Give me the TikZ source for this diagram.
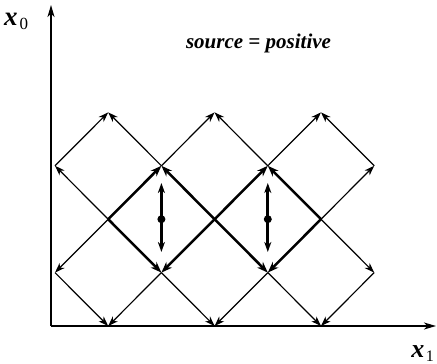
\documentclass[tikz,border=0pt]{standalone}
\usepackage{fontspec}
\setmainfont{Liberation Serif}
\usetikzlibrary{arrows.meta}
\begin{document}
\begin{tikzpicture}[x=1pt,y=-1pt,
  thinray/.style={line width=1.2pt,-{Stealth[length=10pt,width=7pt,inset=3pt]}},
  thickray/.style={line width=2.5pt,-{Stealth[length=11pt,width=8pt,inset=3.5pt]}},
  srcarrow/.style={line width=2.8pt,-{Stealth[length=10pt,width=7pt,inset=3pt]}},
  axis/.style={line width=1.5pt,-{Stealth[length=12pt,width=7pt,inset=3.5pt]}},
  lbl/.style={inner sep=0pt}]
\useasboundingbox (0,0) rectangle (437,364);
% lattice points
\coordinate (B1) at (108.2,326); \coordinate (B2) at (214.6,326); \coordinate (B3) at (321,326);
\coordinate (L1) at (55,272.6); \coordinate (M1) at (161.4,272.6); \coordinate (M2) at (267.8,272.6); \coordinate (R1) at (374.2,272.6);
\coordinate (C1) at (108.2,219.2); \coordinate (C2) at (214.6,219.2); \coordinate (C3) at (321,219.2);
\coordinate (L3) at (55,165.8); \coordinate (N1) at (161.4,165.8); \coordinate (N2) at (267.8,165.8); \coordinate (R3) at (374.2,165.8);
\coordinate (T1) at (108.2,112.4); \coordinate (T2) at (214.6,112.4); \coordinate (T3) at (321,112.4);
% axes
\coordinate (O) at (51,326);
\coordinate (Ytip) at (51,5);
\coordinate (Xtip) at (436,326);
\draw[axis] (O) -- (Ytip);
\draw[axis] (O) -- (Xtip);
% thin rays
\draw[thinray] (C1) -- (L3);
\draw[thinray] (C1) -- (L1);
\draw[thinray] (L3) -- (T1);
\draw[thinray] (L1) -- (B1);
\draw[thinray] (N1) -- (T1);
\draw[thinray] (N1) -- (T2);
\draw[thinray] (N2) -- (T2);
\draw[thinray] (N2) -- (T3);
\draw[thinray] (M1) -- (B1);
\draw[thinray] (M1) -- (B2);
\draw[thinray] (M2) -- (B2);
\draw[thinray] (M2) -- (B3);
\draw[thinray] (C3) -- (R3);
\draw[thinray] (C3) -- (R1);
\draw[thinray] (R3) -- (T3);
\draw[thinray] (R1) -- (B3);
% thick diamonds
\draw[thickray] (C1) -- (N1);
\draw[thickray] (C2) -- (N1);
\draw[thickray] (C1) -- (M1);
\draw[thickray] (C2) -- (M1);
\draw[thickray] (C2) -- (N2);
\draw[thickray] (C3) -- (N2);
\draw[thickray] (C2) -- (M2);
\draw[thickray] (C3) -- (M2);
% sources
\coordinate (S1) at (161.4,219.2); \coordinate (S1u) at (161.4,183); \coordinate (S1d) at (161.4,252);
\coordinate (S2) at (267.8,219.2); \coordinate (S2u) at (267.8,183); \coordinate (S2d) at (267.8,252);
\draw[srcarrow] (S1) -- (S1u);
\draw[srcarrow] (S1) -- (S1d);
\draw[srcarrow] (S2) -- (S2u);
\draw[srcarrow] (S2) -- (S2d);
\fill (S1) circle (4pt);
\fill (S2) circle (4pt);
% labels
\node[lbl,anchor=base west] (x0) at (4,25) {\fontsize{27}{30}\selectfont\bfseries\itshape x\kern2pt\raisebox{-5pt}{\normalfont\fontsize{17}{20}\selectfont 0}};
\node[lbl,anchor=base east] (x1) at (434,357) {\fontsize{26}{30}\selectfont\bfseries\itshape x\kern1.5pt\raisebox{-4pt}{\normalfont\fontsize{16}{20}\selectfont 1}};
\node[lbl,anchor=base] (src) at (258.5,48) {\fontsize{21}{24}\selectfont\bfseries\itshape source = positive};
\end{tikzpicture}
\end{document}
